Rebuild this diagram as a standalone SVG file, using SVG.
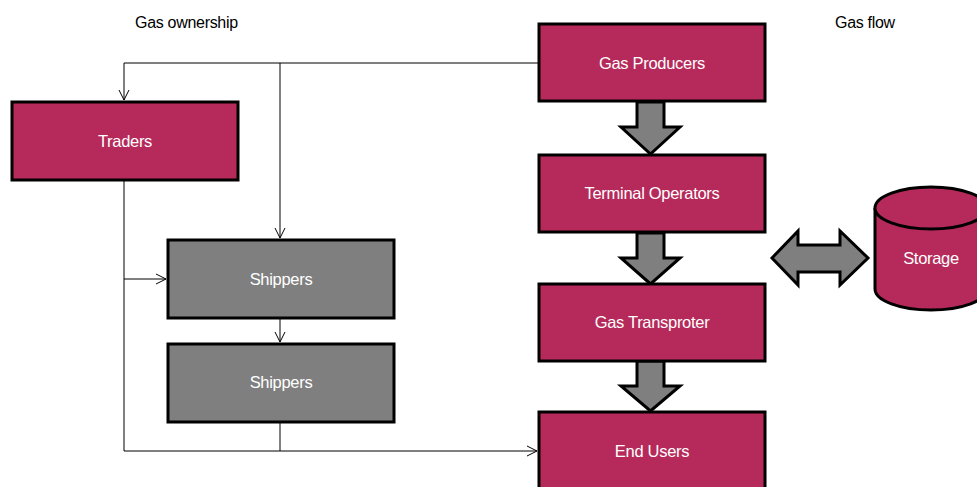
<svg xmlns="http://www.w3.org/2000/svg" width="977" height="487" viewBox="0 0 977 487">
  <style>
    .box { fill: #b52a5a; stroke: #000; stroke-width: 3; }
    .grey { fill: #7f7f7f; stroke: #000; stroke-width: 3; }
    .lbl { font-family: "Liberation Sans", Arial, sans-serif; font-size: 16.5px; fill: #fff; text-anchor: middle; letter-spacing: -0.3px; }
    .title { font-family: "Liberation Sans", Arial, sans-serif; font-size: 16px; fill: #000; letter-spacing: -0.3px; }
    .line { fill: none; stroke: #000; stroke-width: 1; }
    .block { fill: #7f7f7f; stroke: #000; stroke-width: 3; stroke-linejoin: miter; }
  </style>
  <defs>
    <marker id="open" markerWidth="12" markerHeight="12" refX="10" refY="6" orient="auto" markerUnits="userSpaceOnUse">
      <path d="M0,1 L10,6 L0,11" fill="none" stroke="#000" stroke-width="1"/>
    </marker>
  </defs>

  <text class="title" x="135" y="28">Gas ownership</text>
  <text class="title" x="835" y="28">Gas flow</text>

  <!-- ownership connectors and flow arrows -->
  <g id="connectors">
    <path class="line" d="M538,63 H124 V100" marker-end="url(#open)"/>
    <path class="line" d="M280,63 V238" marker-end="url(#open)"/>
    <path class="line" d="M124,180 V451 H537" marker-end="url(#open)"/>
    <path class="line" d="M124,279 H166" marker-end="url(#open)"/>
    <path class="line" d="M280,318 V342" marker-end="url(#open)"/>
    <path class="line" d="M280,422 V451"/>
    <path class="block" d="M637,102 H664 V127 H680 L650.5,154 L621,127 H637 Z"/>
    <path class="block" d="M637,233 H664 V258 H680 L650.5,284 L621,258 H637 Z"/>
    <path class="block" d="M637,361 H664 V386 H680 L650.5,411 L621,386 H637 Z"/>
    <path class="block" d="M772,258 L798,231 V245 H840 V231 L868,258 L840,285 V272 H798 V285 Z"/>
  </g>

  <g id="producers">
    <rect class="box" x="539" y="24" width="226" height="77"/>
    <text class="lbl" x="652" y="69">Gas Producers</text>
  </g>
  <g id="terminal">
    <rect class="box" x="539" y="155" width="226" height="77"/>
    <text class="lbl" x="652" y="199">Terminal Operators</text>
  </g>
  <g id="transporter">
    <rect class="box" x="539" y="284" width="226" height="77"/>
    <text class="lbl" x="652" y="328">Gas Transproter</text>
  </g>
  <g id="endusers">
    <rect class="box" x="539" y="412" width="226" height="90"/>
    <text class="lbl" x="652" y="457">End Users</text>
  </g>
  <g id="traders">
    <rect class="box" x="12" y="102" width="226" height="78"/>
    <text class="lbl" x="125" y="147">Traders</text>
  </g>
  <g id="shippers1">
    <rect class="grey" x="168" y="240" width="226" height="78"/>
    <text class="lbl" x="281" y="285">Shippers</text>
  </g>
  <g id="shippers2">
    <rect class="grey" x="168" y="344" width="226" height="78"/>
    <text class="lbl" x="281" y="388">Shippers</text>
  </g>
  <g id="storage">
    <path class="box" d="M875,208 A56,21 0 0 1 987,208 V289 A56,21 0 0 1 875,289 Z"/>
    <path class="box" d="M875,208 A56,21 0 0 0 987,208" fill="none"/>
    <text class="lbl" x="931" y="264">Storage</text>
  </g>
</svg>
